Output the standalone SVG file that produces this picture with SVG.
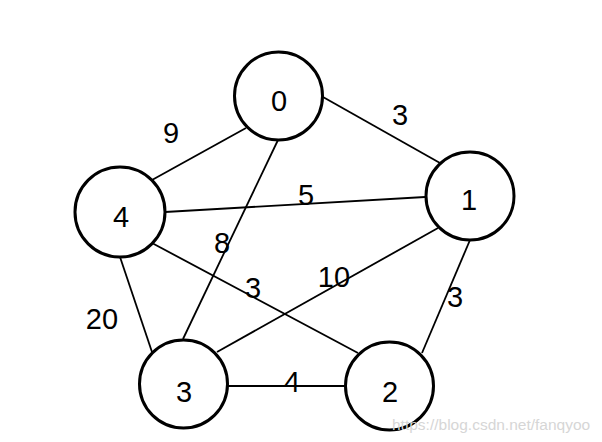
<svg xmlns="http://www.w3.org/2000/svg" width="602" height="442" viewBox="0 0 602 442">
<style>
.e{stroke:#000;stroke-width:1.8;fill:none}
.n{fill:#fff;stroke:#000;stroke-width:3}
.t{font-family:"Liberation Sans",Arial,sans-serif;font-size:29px;fill:#000;text-anchor:middle}
.w{font-family:"Liberation Sans",Arial,sans-serif;font-size:15.5px;fill:#d6d6d6;text-anchor:start}
</style>
<rect width="602" height="442" fill="#fff"/>
<g id="edges">
<line class="e" x1="246" y1="128" x2="152" y2="180"/>
<line class="e" x1="323" y1="97" x2="440" y2="163"/>
<line class="e" x1="165" y1="212" x2="425" y2="197"/>
<line class="e" x1="278" y1="140" x2="183" y2="339"/>
<line class="e" x1="152" y1="243" x2="358" y2="353"/>
<line class="e" x1="438" y1="228" x2="217" y2="352"/>
<line class="e" x1="470" y1="240" x2="422" y2="353"/>
<line class="e" x1="120" y1="257" x2="152" y2="352"/>
<line class="e" x1="228" y1="386" x2="345" y2="386"/>
</g>
<g id="edge-labels">
<text class="t" x="171" y="143">9</text>
<text class="t" x="400" y="125">3</text>
<text class="t" x="306" y="205">5</text>
<text class="t" x="222" y="253">8</text>
<text class="t" x="253" y="298">3</text>
<text class="t" x="334" y="287">10</text>
<text class="t" x="455" y="307">3</text>
<text class="t" x="102" y="329">20</text>
<text class="t" x="292" y="392">4</text>
</g>
<g id="node0"><circle class="n" cx="278.5" cy="96" r="44"/><text class="t" x="279" y="111">0</text></g>
<g id="node1"><circle class="n" cx="470" cy="196" r="44"/><text class="t" x="469" y="210">1</text></g>
<g id="node2"><circle class="n" cx="389.5" cy="386" r="44"/><text class="t" x="390" y="402">2</text></g>
<g id="node3"><circle class="n" cx="183.5" cy="384" r="44"/><text class="t" x="184" y="402">3</text></g>
<g id="node4"><circle class="n" cx="120" cy="212" r="45"/><text class="t" x="121" y="227">4</text></g>
<text class="w" x="392" y="430">https://blog.csdn.net/fanqyoo</text>
</svg>
